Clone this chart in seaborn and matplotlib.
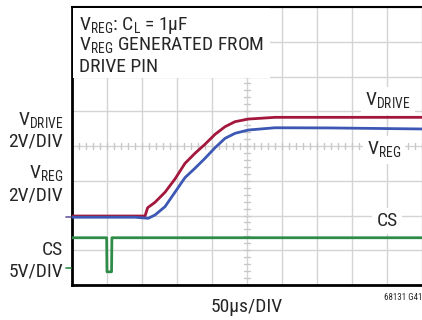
import numpy as np
import pandas as pd
import matplotlib as mpl
import matplotlib.pyplot as plt
import seaborn as sns

# ---------------------------------------------- data (read off the scope shot) ---------------------------------------------- #
# time in us (50us/DIV), voltages in V
t_drive = [0, 104.3, 108.1, 118.6, 132.9, 147.1, 161.4, 175.7, 190, 204.3, 218.6, 232.9, 251.9, 290, 500]
v_drive = [0.07, 0.07, 0.55, 0.86, 1.44, 2.20, 3.10, 3.68, 4.20, 4.77, 5.21, 5.50, 5.65, 5.75, 5.75]

t_reg = [0, 90, 109, 118.6, 132.9, 147.1, 161.4, 175.7, 190, 204.3, 218.6, 232.9, 251.9, 290, 368.6, 500]
v_reg = [0.0, 0.0, -0.06, 0.13, 0.61, 1.44, 2.28, 2.82, 3.39, 4.00, 4.54, 4.83, 5.02, 5.15, 5.14, 5.08]

t_cs = [0, 49.5, 50, 56.5, 57, 500]
v_cs = [4.4, 4.4, -0.5, -0.5, 4.4, 4.4]

# volts per division and ground position (in divisions from bottom)
v_per_div = {'drive': 2, 'reg': 2, 'cs': 5}
gnd_div = {'drive': 1.95, 'reg': 1.95, 'cs': 0.48}

RED = '#a3173d'
BLUE = '#3c57b4'
GREEN = '#2f8c48'

sns.set_style('white')
plt.rcParams['font.family'] = ['Roboto Condensed', 'DejaVu Sans']

W, H = 422, 320
fig = plt.figure(figsize=(W / 100, H / 100), dpi=100)
ax = fig.add_axes([72 / W, 35 / H, 350 / W, 278 / H])

def to_div(v, key):
    return np.array(v) / v_per_div[key] + gnd_div[key]

df_drive = pd.DataFrame({'t': t_drive, 'd': to_div(v_drive, 'drive')})
df_reg = pd.DataFrame({'t': t_reg, 'd': to_div(v_reg, 'reg')})
df_cs = pd.DataFrame({'t': t_cs, 'd': to_div(v_cs, 'cs')})

sns.lineplot(data=df_cs, x='t', y='d', ax=ax, color=GREEN, lw=2, zorder=5)
sns.lineplot(data=df_drive, x='t', y='d', ax=ax, color=RED, lw=2, zorder=5)
sns.lineplot(data=df_reg, x='t', y='d', ax=ax, color=BLUE, lw=2, zorder=6)

ax.set_xlim(0, 500)
ax.set_ylim(0, 8)
ax.set_xticks(np.arange(0, 501, 50))
ax.set_yticks(np.arange(0, 9, 1))
ax.tick_params(length=0, labelbottom=False, labelleft=False)
ax.grid(True, color='#d4d4d4', lw=1)
ax.set_xlabel('')
ax.set_ylabel('')

# minor ticks on the center lines
for yy in np.arange(0, 8.01, 0.2):
    ax.plot([250 - 4, 250 + 4], [yy, yy], color='#c8c8c8', lw=1, zorder=1)
for xx in np.arange(0, 500.1, 10):
    ax.plot([xx, xx], [4 - 0.09, 4 + 0.09], color='#c8c8c8', lw=1, zorder=1)

for s in ['left', 'bottom', 'top']:
    ax.spines[s].set_color('black')
ax.spines['left'].set_linewidth(2)
ax.spines['bottom'].set_linewidth(2)
ax.spines['top'].set_linewidth(1.5)
ax.spines['right'].set_visible(False)

# white box behind the note
note_box = mpl.patches.Rectangle((1 / 350, (285 - 78) / 278), 197 / 350, 70 / 278, transform=ax.transAxes,
                                 facecolor='white', edgecolor='none', zorder=3)
ax.add_patch(note_box)

fs = 14
def ftext(x, y, s, **kw):
    fig.text(x / W, 1 - y / H, s, **kw)

ftext(79, 25, r'V$_\mathregular{REG}$: C$_\mathregular{L}$ = 1µF', fontsize=fs, va='center', ha='left', zorder=10)
ftext(79, 46, r'V$_\mathregular{REG}$ GENERATED FROM', fontsize=fs, va='center', ha='left', zorder=10)
ftext(79, 67, 'DRIVE PIN', fontsize=fs, va='center', ha='left', zorder=10)

# left channel labels
ftext(63, 121, r'V$_\mathregular{DRIVE}$', fontsize=fs, va='center', ha='right')
ftext(63, 142, '2V/DIV', fontsize=fs, va='center', ha='right')
ftext(63, 174, r'V$_\mathregular{REG}$', fontsize=fs, va='center', ha='right')
ftext(63, 195, '2V/DIV', fontsize=fs, va='center', ha='right')
ftext(63, 250, 'CS', fontsize=fs, va='center', ha='right')
ftext(63, 271, '5V/DIV', fontsize=fs, va='center', ha='right')

# ground markers
fig.add_artist(mpl.lines.Line2D([66 / W, 71 / W], [1 - 217 / H] * 2, color='#6a5a9c', lw=1.2))
fig.add_artist(mpl.lines.Line2D([66 / W, 71 / W], [1 - 268 / H] * 2, color=GREEN, lw=1.2))

# right trace labels with white backgrounds
bb = dict(facecolor='white', edgecolor='none', pad=3)
ftext(388, 101, r'V$_\mathregular{DRIVE}$', fontsize=fs, va='center', ha='center', bbox=bb, zorder=10)
ftext(384, 150, r'V$_\mathregular{REG}$', fontsize=fs, va='center', ha='center', bbox=bb, zorder=10)
ftext(387, 221, 'CS', fontsize=fs, va='center', ha='center', bbox=bb, zorder=10)

ftext(247, 307, '50µs/DIV', fontsize=fs, va='center', ha='center')
ftext(422, 297, '68131 G41', fontsize=6.5, va='center', ha='right')

fig.savefig('out.png', dpi=100)
